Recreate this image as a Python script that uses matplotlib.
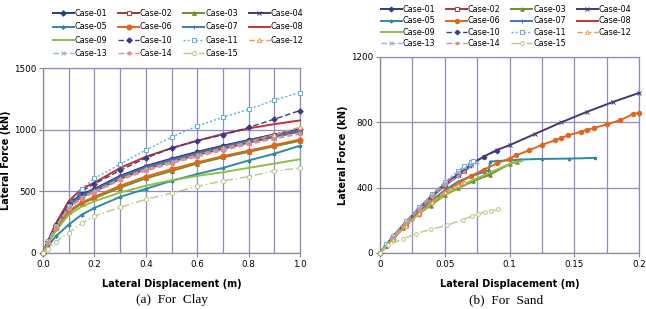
import matplotlib.pyplot as plt
from matplotlib.ticker import MultipleLocator, FixedLocator

cases = ['Case-%02d' % i for i in range(1, 16)]

# Clay: all cases share the same displacement steps (m)
clay_disp = [0, 0.02, 0.05, 0.1, 0.15, 0.2, 0.3, 0.4, 0.5, 0.6, 0.7, 0.8, 0.9, 1.0]
clay_force = [
    [0, 95, 225, 390, 470, 515, 620, 700, 760, 815, 865, 915, 960, 1005],    # 01
    [0, 92, 215, 375, 455, 500, 600, 680, 740, 795, 845, 895, 940, 985],     # 02
    [0, 85, 200, 330, 400, 445, 530, 605, 665, 725, 775, 820, 865, 910],     # 03
    [0, 95, 230, 395, 475, 520, 625, 705, 765, 820, 870, 915, 960, 1000],    # 04
    [0, 60, 135, 230, 310, 365, 455, 520, 585, 640, 690, 750, 805, 870],     # 05
    [0, 88, 205, 340, 410, 455, 545, 620, 680, 735, 785, 830, 875, 920],     # 06
    [0, 92, 220, 385, 465, 510, 615, 695, 755, 810, 860, 910, 955, 995],     # 07
    [0, 100, 240, 420, 520, 570, 690, 780, 850, 910, 965, 1010, 1045, 1075], # 08
    [0, 75, 180, 310, 375, 420, 490, 545, 590, 625, 655, 690, 725, 760],     # 09
    [0, 95, 230, 400, 500, 560, 670, 770, 850, 912, 957, 1018, 1085, 1155],  # 10
    [0, 95, 215, 385, 520, 605, 720, 835, 940, 1030, 1100, 1165, 1240, 1300],# 11
    [0, 90, 215, 370, 450, 500, 600, 680, 740, 795, 850, 900, 960, 1020],    # 12
    [0, 90, 210, 365, 445, 495, 595, 675, 735, 790, 840, 890, 935, 975],     # 13
    [0, 90, 210, 360, 440, 490, 590, 665, 725, 780, 830, 880, 925, 965],     # 14
    [0, 35, 90, 165, 240, 300, 370, 435, 485, 540, 585, 620, 665, 690],      # 15
]

# Sand: each case stops at a different displacement
sand_disp = [
    [0, 0.01, 0.02, 0.03, 0.04, 0.05, 0.06],
    [0, 0.01, 0.02, 0.03, 0.04, 0.05, 0.06, 0.065],
    [0, 0.005, 0.01, 0.018, 0.025, 0.039, 0.05, 0.06, 0.072, 0.085, 0.1, 0.106],
    [0, 0.005, 0.01, 0.02, 0.03, 0.04, 0.05, 0.06, 0.07, 0.08, 0.09, 0.1,
     0.12, 0.14, 0.16, 0.18, 0.2],
    [0, 0.01, 0.02, 0.03, 0.04, 0.05, 0.06, 0.07, 0.08, 0.084, 0.085, 0.09,
     0.1, 0.108, 0.125, 0.146, 0.166],
    [0, 0.005, 0.01, 0.02, 0.03, 0.04, 0.05, 0.06, 0.07, 0.08, 0.09, 0.1,
     0.105, 0.115, 0.125, 0.135, 0.14, 0.145, 0.155, 0.16, 0.165, 0.175,
     0.185, 0.195, 0.2],
    [0, 0.01, 0.02, 0.03, 0.04, 0.05, 0.06, 0.07],
    [0, 0.01, 0.02, 0.03, 0.04, 0.05, 0.055],
    [0, 0.01, 0.02, 0.03, 0.04, 0.05, 0.06, 0.07, 0.08, 0.09, 0.1, 0.11],
    [0, 0.005, 0.01, 0.02, 0.03, 0.04, 0.05, 0.06, 0.07, 0.08, 0.09],
    [0, 0.005, 0.01, 0.02, 0.03, 0.04, 0.05, 0.06, 0.065, 0.07, 0.072],
    [0, 0.01, 0.02, 0.03, 0.04, 0.05, 0.06, 0.065],
    [0, 0.01, 0.02, 0.03, 0.04, 0.05, 0.06, 0.07, 0.075],
    [0, 0.01, 0.02, 0.03, 0.04, 0.05, 0.06, 0.065],
    [0, 0.006, 0.018, 0.028, 0.039, 0.052, 0.064, 0.071, 0.076, 0.081, 0.086, 0.091],
]
sand_force = [
    [0, 98, 186, 270, 348, 420, 478],
    [0, 97, 185, 268, 345, 418, 475, 505],
    [0, 45, 88, 155, 215, 290, 355, 395, 440, 480, 545, 560],
    [0, 50, 100, 190, 270, 350, 420, 480, 540, 590, 630, 660, 730, 800, 865, 925, 980],
    [0, 92, 175, 250, 320, 385, 435, 470, 495, 505, 560, 563, 567, 572, 576, 578, 582],
    [0, 45, 88, 168, 240, 310, 372, 425, 470, 510, 548, 578, 598, 628, 662, 690,
     705, 720, 742, 755, 765, 787, 812, 848, 860],
    [0, 95, 182, 265, 342, 412, 470, 530],
    [0, 100, 188, 272, 350, 422, 450],
    [0, 88, 170, 240, 300, 360, 400, 440, 475, 510, 545, 565],
    [0, 52, 102, 192, 275, 355, 428, 490, 545, 590, 625],
    [0, 55, 105, 195, 280, 360, 435, 500, 530, 555, 565],
    [0, 88, 168, 242, 312, 375, 415, 435],
    [0, 100, 190, 275, 355, 430, 495, 540, 558],
    [0, 96, 184, 266, 344, 415, 470, 498],
    [0, 47, 88, 119, 144, 170, 205, 225, 240, 250, 258, 267],
]

# line styles per case (Excel-like defaults)
colors = ['#24417a', '#a33a36', '#6f8f2a', '#4a3772', '#2f8aa0', '#e0661c',
          '#3f75c0', '#c0332f', '#8fbf45', '#3d3a8a', '#5fb0d8', '#f39a4a',
          '#93afd8', '#dc8c8a', '#b5cb85']
lstyles = ['-', '-', '-', '-', '-', '-', '-', '-', '-',
           (0, (4, 2)), (0, (1.5, 1.5)), (0, (4, 2)), (0, (4, 2)), (0, (4, 2)), (0, (6, 2, 1, 2))]
markers = ['D', 's', '^', 'x', (6, 2, 0), 'o', '|', None, None,
           'D', 's', '^', 'x', (6, 2, 0), 'o']
filled = [True, False, True, True, True, True, True, True, True,
          True, False, False, True, True, False]
msize = [1.0, 1.0, 1.0, 1.0, 1.0, 1.3, 1.0, 1.0, 1.0,
         1.0, 1.0, 1.1, 1.0, 1.0, 1.1]

grid_c = '#908ac2'
axis_c = '#8a8a8a'
plt.rcParams['font.family'] = ['DejaVu Sans']

fig = plt.figure(figsize=(6.46, 3.09), dpi=100)
ax1 = fig.add_axes([43 / 646, 56 / 309, 257 / 646, 185 / 309])
ax2 = fig.add_axes([380 / 646, 56 / 309, 259 / 646, 196 / 309])


def draw(ax, xs_list, ys_list, ms):
    handles = []
    for i in range(15):
        h, = ax.plot(xs_list[i], ys_list[i], color=colors[i], linestyle=lstyles[i],
                     linewidth=1.4 if i < 9 else 1.0, marker=markers[i],
                     markersize=ms * msize[i], markeredgewidth=0.7,
                     markerfacecolor=colors[i] if filled[i] else 'white',
                     clip_on=False, zorder=3)
        handles.append(h)
    return handles


h1 = draw(ax1, [clay_disp] * 15, clay_force, 2.8)
h2 = draw(ax2, sand_disp, sand_force, 2.5)

for ax in (ax1, ax2):
    ax.grid(True, which='both', color=grid_c, linewidth=0.9)
    ax.set_axisbelow(True)
    for side in ('top', 'right'):
        ax.spines[side].set_color(grid_c)
        ax.spines[side].set_linewidth(0.9)
    for side in ('left', 'bottom'):
        ax.spines[side].set_color(axis_c)
        ax.spines[side].set_linewidth(0.9)
    ax.tick_params(which='both', length=3, width=0.8, color=axis_c, labelsize=6.3, pad=2)
    ax.tick_params(which='minor', length=0)
    ax.set_ylabel('Lateral Force (kN)', fontsize=7, fontweight='bold', labelpad=2)
    ax.set_xlabel('Lateral Displacement (m)', fontsize=7, fontweight='bold', labelpad=7)

ax1.set_xlim(0, 1.0)
ax1.set_ylim(0, 1500)
ax1.xaxis.set_major_locator(MultipleLocator(0.2))
ax1.xaxis.set_minor_locator(MultipleLocator(0.1))
ax1.yaxis.set_major_locator(MultipleLocator(500))
ax1.set_xticklabels(['%.1f' % v for v in ax1.get_xticks()])

ax2.set_xlim(0, 0.2)
ax2.set_ylim(0, 1200)
ax2.xaxis.set_major_locator(FixedLocator([0, 0.05, 0.1, 0.15, 0.2]))
ax2.xaxis.set_minor_locator(MultipleLocator(0.025))
ax2.yaxis.set_major_locator(MultipleLocator(400))
ax2.set_xticklabels(['0', '0.05', '0.1', '0.15', '0.2'])

order = [0, 4, 8, 12, 1, 5, 9, 13, 2, 6, 10, 14, 3, 7, 11]
fig.legend([h1[k] for k in order], [cases[k] for k in order], ncol=4,
           loc='upper center', bbox_to_anchor=(178 / 646, 1 - 9 / 309),
           fontsize=5.8, frameon=False, handlelength=2.6, handletextpad=0.1,
           columnspacing=1.35, labelspacing=0.55, borderpad=0, borderaxespad=0)
fig.legend([h2[k] for k in order], [cases[k] for k in order], ncol=4,
           loc='upper center', bbox_to_anchor=(506 / 646, 1 - 5 / 309),
           fontsize=5.8, frameon=False, handlelength=2.6, handletextpad=0.1,
           columnspacing=1.35, labelspacing=0.3, borderpad=0, borderaxespad=0)

fig.text(172 / 646, 1 - 294 / 309, '(a)  For  Clay', ha='center', va='top',
         fontsize=9.5, family='Liberation Serif')
fig.text(506 / 646, 1 - 294 / 309, '(b)  For  Sand', ha='center', va='top',
         fontsize=9.5, family='Liberation Serif')

fig.savefig('out.png', dpi=100)
